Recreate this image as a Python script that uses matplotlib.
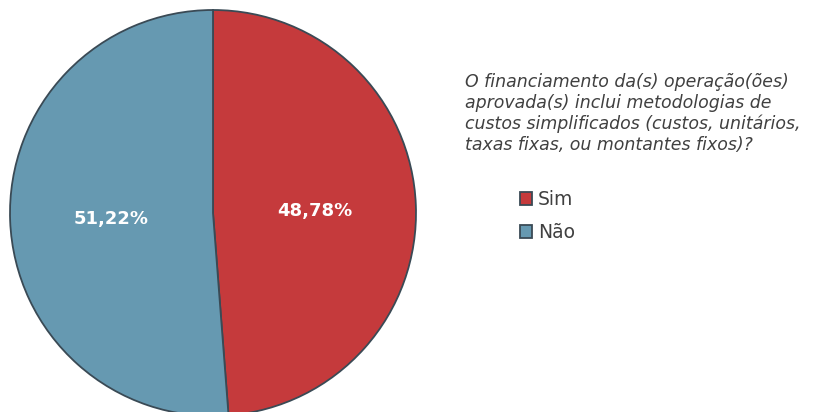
import matplotlib.pyplot as plt

labels = ['Sim', 'Não']
shares = [48.78, 51.22]
colors = ['#C53A3C', '#6699B1']
question = ('O financiamento da(s) operação(ões)\n'
            'aprovada(s) inclui metodologias de\n'
            'custos simplificados (custos, unitários,\n'
            'taxas fixas, ou montantes fixos)?')

W, H = 820, 412
fig = plt.figure(figsize=(W / 100, H / 100), dpi=100)
ax = fig.add_axes([0, 0, 1, 1])

wedges, _, autotexts = ax.pie(shares, colors=colors, startangle=90, counterclock=False,
                              center=(213, H - 213), radius=203, frame=True,
                              autopct=lambda p: f'{p:.2f}%'.replace('.', ','),
                              pctdistance=0.5,
                              wedgeprops=dict(edgecolor='#3a4a55', linewidth=1.3))
ax.set_xlim(0, W)
ax.set_ylim(0, H)
ax.set_aspect('equal')
ax.axis('off')
for t in autotexts:
    t.set_color('white')
    t.set_fontsize(13)
    t.set_fontweight('bold')
    t.set_family('DejaVu Sans')
    x, y = t.get_position()
    t.set_position((x, y - 2))

ax.text(465, H - 73, question, ha='left', va='top', fontsize=12.5, style='italic',
        color='#404040', family='DejaVu Sans', linespacing=1.2)

fig.legend(wedges, labels, loc='upper left', bbox_to_anchor=(520 / W, 1 - 190 / H),
           frameon=False, handlelength=0.65, handleheight=0.65,
           handletextpad=0.3, labelspacing=0.75, borderaxespad=0, borderpad=0,
           prop=dict(family='DejaVu Sans', size=13.5), labelcolor='#404040')

fig.savefig('out.png', dpi=100)
